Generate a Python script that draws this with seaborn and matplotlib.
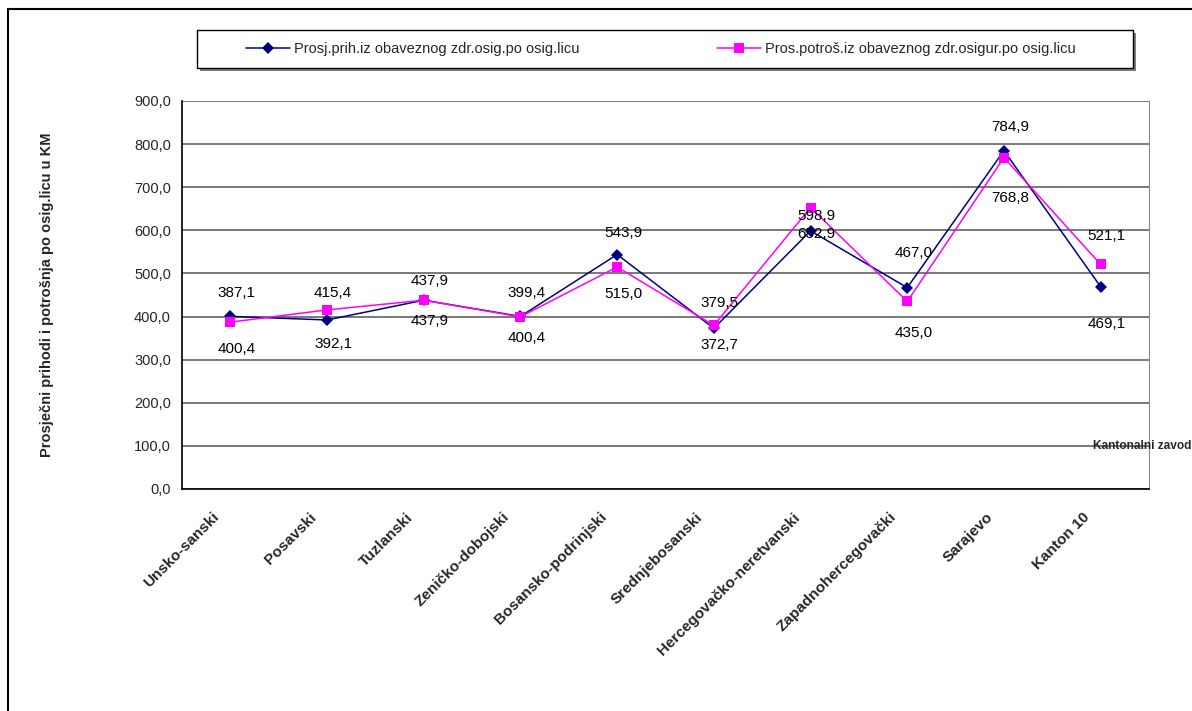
import matplotlib
matplotlib.use("Agg")
import matplotlib.pyplot as plt
import seaborn as sns
import numpy as np
import pandas as pd
from matplotlib.lines import Line2D
from matplotlib.patches import Rectangle

cantons = ["Unsko-sanski", "Posavski", "Tuzlanski", "Zeničko-dobojski",
           "Bosansko-podrinjski", "Srednjebosanski", "Hercegovačko-neretvanski",
           "Zapadnohercegovački", "Sarajevo", "Kanton 10"]
prihodi = [400.4, 392.1, 437.9, 400.4, 543.9, 372.7, 598.9, 467.0, 784.9, 469.1]
potrosnja = [387.1, 415.4, 437.9, 399.4, 515.0, 379.5, 652.9, 435.0, 768.8, 521.1]
name_prihodi = "Prosj.prih.iz obaveznog zdr.osig.po osig.licu"
name_potrosnja = "Pros.potroš.iz obaveznog zdr.osigur.po osig.licu"

# label offsets in pixels (excel put them where it liked)
off_prihodi = [-33, -24, -21, -22, 22, -17, 15, 35, 24, -37]
off_potrosnja = [29, 17, 19, 24, -27, 22, -26, -32, -40, 28]

sns.set_style("white")
plt.rcParams['font.family'] = ['Liberation Sans', 'DejaVu Sans']

fig = plt.figure(figsize=(11.92, 7.11), dpi=100)
ax = fig.add_axes([182/1192, 1-489/711, (1149-182)/1192, (489-101)/711])

pos = np.arange(len(cantons))
df = pd.DataFrame({"pos": pos, "prihodi": prihodi, "potrosnja": potrosnja})

sns.lineplot(data=df, x="pos", y="prihodi", ax=ax, color="#000080", marker="D",
             markersize=6.5, markeredgewidth=0, linewidth=1.1, zorder=3)
sns.lineplot(data=df, x="pos", y="potrosnja", ax=ax, color="#FF00FF", marker="s",
             markersize=6.5, markeredgewidth=0, linewidth=1.1, zorder=4)

for i in range(len(cantons)):
    ax.annotate(f"{prihodi[i]:.1f}".replace(".", ","), (pos[i], prihodi[i]),
                xytext=(6, off_prihodi[i]), textcoords="offset pixels",
                ha="center", va="center", fontsize=11, color="black", zorder=5)
    ax.annotate(f"{potrosnja[i]:.1f}".replace(".", ","), (pos[i], potrosnja[i]),
                xytext=(6, off_potrosnja[i]), textcoords="offset pixels",
                ha="center", va="center", fontsize=11, color="black", zorder=5)

ax.set_xlim(-0.5, len(cantons) - 0.5)
ax.set_ylim(0, 900)
ax.set_yticks(np.arange(0, 901, 100))
ax.set_yticklabels([f"{v:.1f}".replace(".", ",") for v in np.arange(0, 901, 100)], fontsize=10.5)

# category names, rotated like excel does it
ax.set_xticks(pos)
ax.set_xticklabels([])
for i, name in enumerate(cantons):
    ax.annotate(name, (pos[i], 0), xycoords=ax.get_xaxis_transform(),
                xytext=(-13, -26), textcoords="offset pixels", rotation=45,
                rotation_mode="anchor", ha="right", va="center",
                fontsize=11, fontweight="bold", annotation_clip=False)
ax.set_xticks(np.arange(-0.5, len(cantons)), minor=True)
ax.tick_params(axis="x", which="major", length=0)
ax.tick_params(axis="x", which="minor", length=5, width=1, color="black", direction="out")
ax.tick_params(axis="y", length=5, width=1, color="black", direction="out", pad=3)
ax.grid(axis="y", color="#555555", linewidth=1.1)
ax.set_axisbelow(True)
ax.set_xlabel("")
ax.set_ylabel("")
ax.spines["top"].set_visible(False)
ax.spines["right"].set_color("#888888")
ax.spines["left"].set_color("black")
ax.spines["bottom"].set_color("black")
ax.spines["left"].set_linewidth(1.2)
ax.spines["bottom"].set_linewidth(1.2)

fig.text(47/1192, 1-295/711, "Prosječni prihodi i potrošnja po osig.licu u KM",
         rotation=90, ha="center", va="center", fontsize=10.5, fontweight="bold")
fig.text(1093/1192, 1-446/711, "Kantonalni zavod", ha="left", va="center",
         fontsize=8.6, fontweight="bold")

# outer border (top and left visible)
fig.add_artist(Line2D([8/1192, 1], [1-9/711, 1-9/711], transform=fig.transFigure,
                      color="black", linewidth=1.5))
fig.add_artist(Line2D([8/1192, 8/1192], [0, 1-9/711], transform=fig.transFigure,
                      color="black", linewidth=1.5))

# legend box with shadow
fig.add_artist(Rectangle((200/1192, 1-71/711), (1136-200)/1192, 38/711,
                         transform=fig.transFigure, facecolor="#808080",
                         edgecolor="none", zorder=1))
fig.add_artist(Rectangle((197/1192, 1-68/711), (1133-197)/1192, 38/711,
                         transform=fig.transFigure, facecolor="white",
                         edgecolor="black", linewidth=1, zorder=2))
handles = [Line2D([], [], color="#000080", marker="D", markersize=6.5,
                  markeredgewidth=0, linewidth=1.1),
           Line2D([], [], color="#FF00FF", marker="s", markersize=6.5,
                  markeredgewidth=0, linewidth=1.1)]
leg = fig.legend(handles, [name_prihodi, name_potrosnja], loc="center",
                 bbox_to_anchor=(661/1192, 1-49/711), ncol=2, frameon=False,
                 fontsize=10.5, handlelength=3.0, handletextpad=0.3, columnspacing=9.4)
leg.set_zorder(3)

fig.savefig("out.png", dpi=100)
